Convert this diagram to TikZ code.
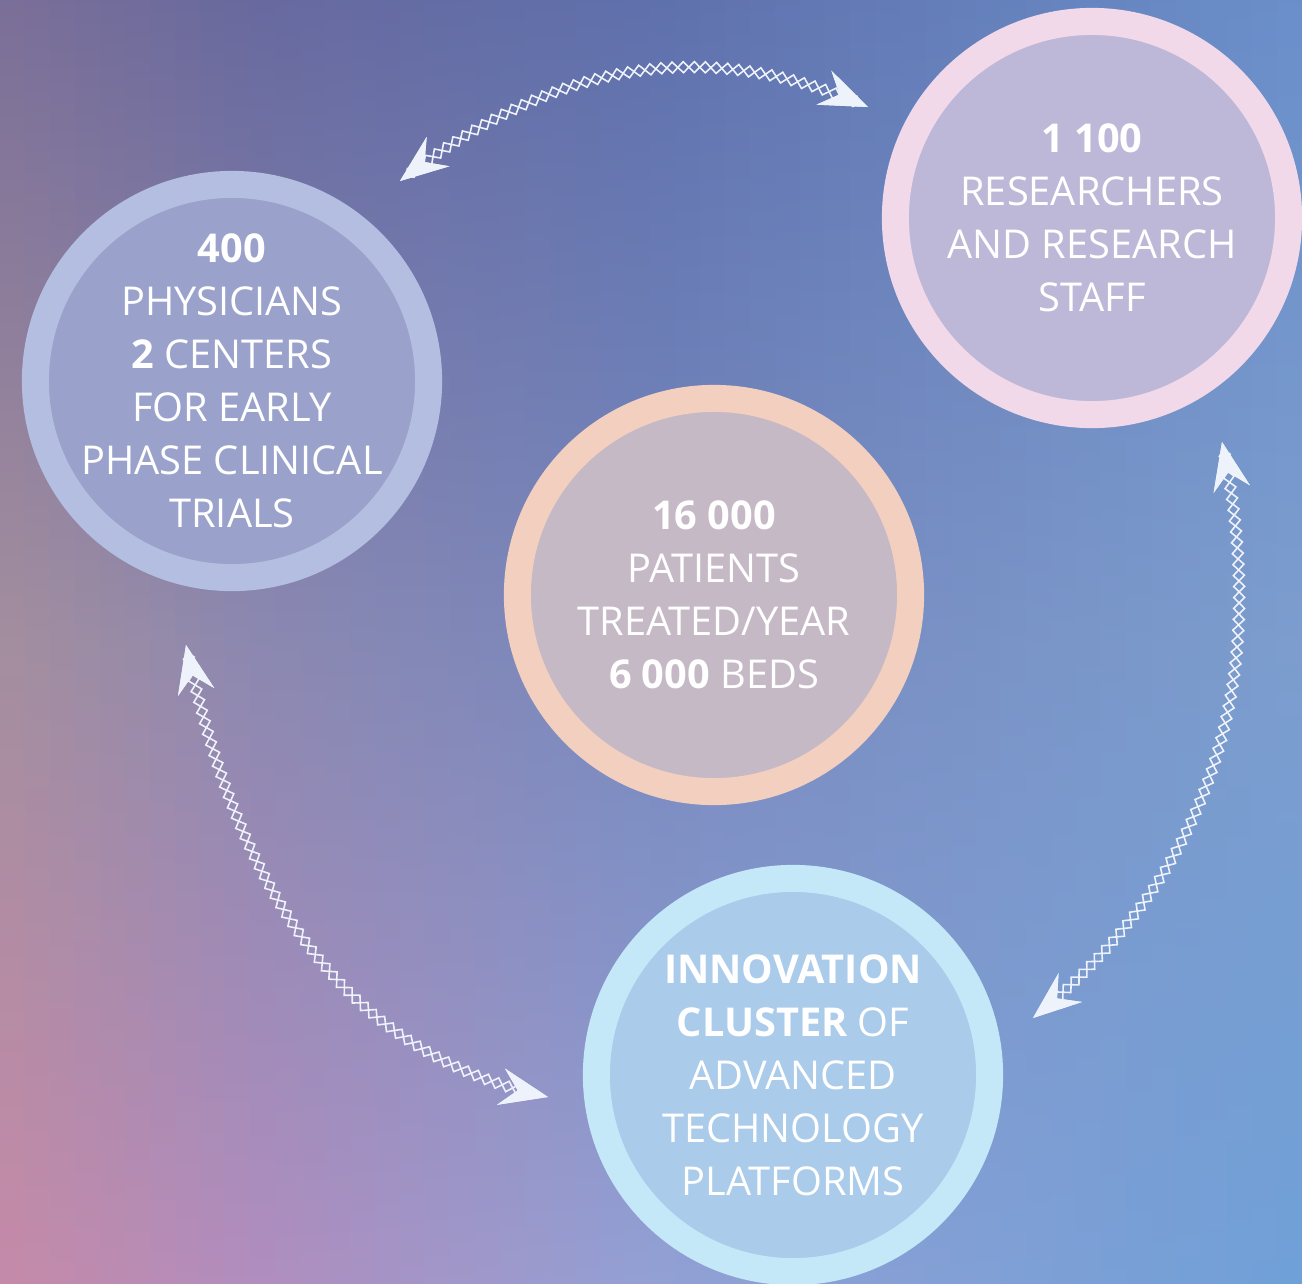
\documentclass[tikz,border=0pt]{standalone}
\usepackage{fontspec}
\setmainfont{Open Sans}
\usetikzlibrary{arrows.meta,decorations.pathmorphing}
\definecolor{c0t}{HTML}{7B6F98}\definecolor{c0m}{HTML}{A48E9E}\definecolor{c0b}{HTML}{C68AA8}
\definecolor{c1t}{HTML}{68699E}\definecolor{c1m}{HTML}{8C88B0}\definecolor{c1b}{HTML}{B18DBE}
\definecolor{c2t}{HTML}{5F70AC}\definecolor{c2m}{HTML}{7788BE}\definecolor{c2b}{HTML}{93A0D4}
\definecolor{c3t}{HTML}{6A8FCA}\definecolor{c3m}{HTML}{7C9DCE}\definecolor{c3b}{HTML}{6FA0D8}
\definecolor{physring}{HTML}{B4BEE0}\definecolor{physfill}{HTML}{9AA2CC}
\definecolor{resring}{HTML}{F2D9EA}\definecolor{resfill}{HTML}{BEB8D8}
\definecolor{patring}{HTML}{F3CFBF}\definecolor{patfill}{HTML}{C6B9C6}
\definecolor{innoring}{HTML}{C5E8F8}\definecolor{innofill}{HTML}{AACBE9}
\definecolor{chainwhite}{HTML}{EEF2FA}
\begin{document}
\begin{tikzpicture}[x=0.01cm, y=0.01cm, >={Stealth[length=4.8mm, width=3.7mm, inset=1.7mm]}]
\tikzstyle{ring}=[circle, minimum size=3.93cm, line width=0.27cm, inner sep=0]
\tikzstyle{txt}=[text=white, align=center, inner sep=0, font=\fontsize{11.3}{15.1}\selectfont]
\tikzstyle{chain}=[<->, draw=chainwhite, line width=0.45pt, decorate, decoration={zigzag, segment length=2.2mm, amplitude=0.55mm, pre=lineto, pre length=0.8mm, post=lineto, post length=0.8mm}]
\useasboundingbox (0,0) rectangle (1302,-1284);
% background
\foreach \xa/\xb/\la/\lb/\n in {0/250/c0/c1/10, 250/650/c1/c2/16, 650/1302/c2/c3/26}{
  \foreach \i in {1,...,\n}{
    \pgfmathsetmacro\p{100*(\i-0.5)/\n}
    \pgfmathsetmacro\x{\xa+(\i-1)*(\xb-\xa)/\n}
    \pgfmathsetmacro\xe{\x+(\xb-\xa)/\n+1}
    \colorlet{tc}{\lb t!\p!\la t}\colorlet{mc}{\lb m!\p!\la m}\colorlet{bc}{\lb b!\p!\la b}
    \shade[top color=tc, bottom color=bc, middle color=mc] (\x,1) rectangle (\xe,-1285);
  }
}
% circles
\node[ring, draw=physring, fill=physfill] (phys) at (232,-381) {};
\node[ring, draw=resring, fill=resfill] (res) at (1092,-218) {};
\node[ring, draw=patring, fill=patfill] (pat) at (714,-595) {};
\node[ring, draw=innoring, fill=innofill] (inno) at (793,-1075) {};
\node[txt] (phystext) at (phys) {\textbf{400}\\PHYSICIANS\\\textbf{2} CENTERS\\FOR EARLY\\PHASE CLINICAL\\TRIALS};
\node[txt] (restext) at (res) {\textbf{1 100}\\RESEARCHERS\\AND RESEARCH\\STAFF};
\node[txt] (pattext) at (pat) {\textbf{16 000}\\PATIENTS\\TREATED/YEAR\\\textbf{6 000} BEDS};
\node[txt] (innotext) at (inno) {\textbf{INNOVATION}\\\textbf{CLUSTER} OF\\ADVANCED\\TECHNOLOGY\\PLATFORMS};
% connectors
\coordinate (physup) at (400,-181);
\coordinate (resleft) at (868,-107);
\coordinate (resdown) at (1222,-442);
\coordinate (innoright) at (1033,-1018);
\coordinate (physdown) at (186,-645);
\coordinate (innoleft) at (548,-1097);
\draw[chain] (physup) to[out=38, in=156] (resleft);
\draw[chain, decoration={mirror}] (physup) to[out=38, in=156] (resleft);
\draw[chain] (resdown) to[out=-78, in=39] (innoright);
\draw[chain, decoration={mirror}] (resdown) to[out=-78, in=39] (innoright);
\draw[chain] (physdown) to[out=-78, in=168] (innoleft);
\draw[chain, decoration={mirror}] (physdown) to[out=-78, in=168] (innoleft);
\end{tikzpicture}
\end{document}
